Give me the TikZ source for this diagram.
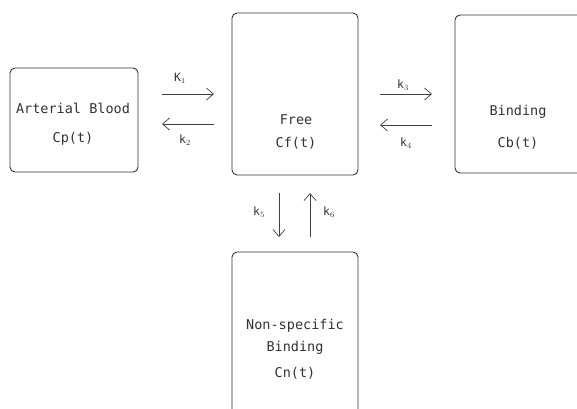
\documentclass[tikz,border=0pt]{standalone}
\usepackage{fontspec}
\setmonofont{DejaVu Sans Mono}
\usetikzlibrary{arrows.meta}
\begin{document}
\begin{tikzpicture}[x=1pt,y=-1pt,
  box/.style={draw=black!80,line width=0.9pt,rounded corners=5pt},
  txt/.style={font=\ttfamily\fontsize{13.5}{15}\selectfont,text=black!80,inner sep=0pt},
  lab/.style={font=\ttfamily\fontsize{11.5}{12}\selectfont,text=black!80,inner sep=0pt},
  flow/.style={draw=black!75,line width=0.7pt,-{Straight Barb[length=7pt,width=12pt,line width=0.7pt]}}]
\useasboundingbox (0,0) rectangle (577,408);
\clip (0,0) rectangle (577,408);
% boxes
\draw[box] (10,68) rectangle (138,172);
\draw[box] (232,13) rectangle (358,175);
\draw[box] (455,15) rectangle (600,173);
\draw[box] (232,252) rectangle (358,430);
% texts
\node[txt] (ab) at (73,108) {Arterial Blood};
\node[txt] (cp) at (73,139) {Cp(t)};
\node[txt] (fr) at (296,120) {Free};
\node[txt] (cf) at (296,143) {Cf(t)};
\node[txt] (bi) at (518,112) {Binding};
\node[txt] (cb) at (518,143) {Cb(t)};
\node[txt] (ns) at (295,326) {Non-specific};
\node[txt] (nb) at (295,348) {Binding};
\node[txt] (cn) at (295,373) {Cn(t)};
% arrow end points
\coordinate (a1s) at (162,94); \coordinate (a1e) at (214,94);
\coordinate (a2s) at (214,124); \coordinate (a2e) at (162,124);
\coordinate (a3s) at (380,94); \coordinate (a3e) at (432,94);
\coordinate (a4s) at (432,125); \coordinate (a4e) at (380,125);
\coordinate (a5s) at (279,193); \coordinate (a5e) at (279,237);
\coordinate (a6s) at (310,237); \coordinate (a6e) at (310,193);
\draw[flow] (a1s) -- (a1e);
\draw[flow] (a2s) -- (a2e);
\draw[flow] (a3s) -- (a3e);
\draw[flow] (a4s) -- (a4e);
\draw[flow] (a5s) -- (a5e);
\draw[flow] (a6s) -- (a6e);
% labels
\node[lab] (l1) at (180,78) {K$_1$};
\node[lab] (l2) at (185,140) {k$_2$};
\node[lab] (l3) at (403,85) {k$_3$};
\node[lab] (l4) at (406,143) {k$_4$};
\node[lab] (l5) at (259,212) {k$_5$};
\node[lab] (l6) at (329,212) {k$_6$};
\end{tikzpicture}
\end{document}
